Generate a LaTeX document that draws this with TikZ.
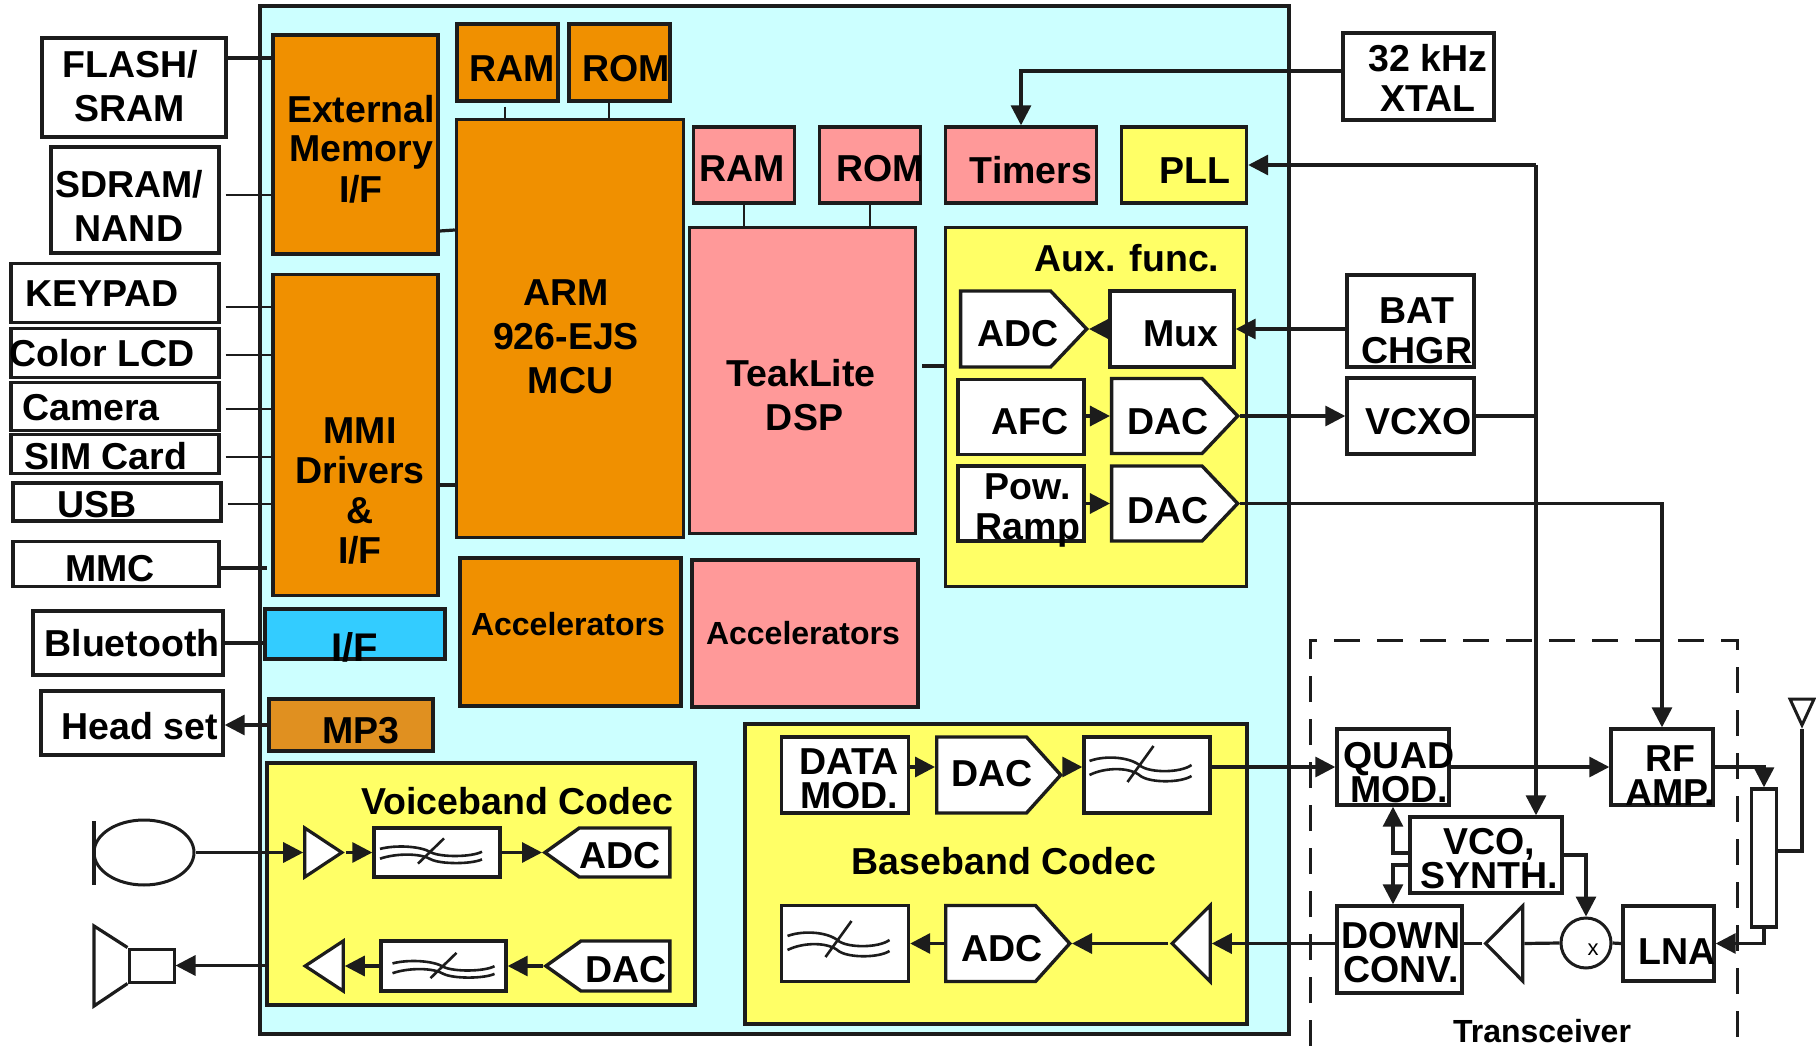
\documentclass[tikz,border=0pt]{standalone}
\usepackage{fontspec}
\setmainfont{Liberation Sans}
\usetikzlibrary{arrows.meta, shapes.geometric, shapes.symbols}
\definecolor{chipcyan}{HTML}{CCFFFF}
\definecolor{armorange}{HTML}{F09000}
\definecolor{mpthree}{HTML}{E09020}
\definecolor{dsppink}{HTML}{FF9999}
\definecolor{auxyellow}{HTML}{FFFF66}
\definecolor{ifblue}{HTML}{33CCFF}
\definecolor{inkline}{HTML}{1C1C1C}
\begin{document}
\begin{tikzpicture}[
    x=1pt, y=-1pt,
    wh/.style 2 args={minimum width=#1, minimum height=#2},
    box/.style={rectangle, draw=inkline, line width=3.4pt, inner sep=0pt, fill=white},
    armbox/.style={box, fill=armorange},
    dspbox/.style={box, fill=dsppink},
    auxbox/.style={box, fill=auxyellow},
    conv/.style={signal, signal from=nowhere, draw=inkline, line width=3.4pt, inner sep=0pt, fill=white},
    amp/.style={isosceles triangle, isosceles triangle stretches, draw=inkline, line width=3.2pt, inner sep=0pt, fill=white, anchor=apex},
    wire/.style={draw=inkline, line width=3.2pt},
    thinwire/.style={draw=inkline, line width=2pt},
    arrow/.style={wire, -{Triangle[length=20pt,width=20pt]}},
    lbl/.style={anchor=base, align=center, inner sep=0pt, font=\fontsize{37.5}{44}\selectfont\bfseries},
    lblmid/.style={lbl, font=\fontsize{37.5}{40}\selectfont\bfseries},
    lblclose/.style={lbl, font=\fontsize{37.5}{34}\selectfont\bfseries},
    lblsmall/.style={lbl, font=\fontsize{32}{36}\selectfont\bfseries},
    pics/wavefilter/.style={code={
        \draw[inkline, line width=2.6pt] (-51,-3) .. controls (-35,-9) and (-10,-7) .. (0,2) .. controls (10,9) and (40,9) .. (51,1);
        \draw[inkline, line width=2.6pt] (-51,11) .. controls (-35,3) and (-10,3) .. (0,12) .. controls (10,19) and (40,19) .. (51,12);
        \draw[inkline, line width=2.6pt] (-13,18) -- (13,-18);
    }}
]
\useasboundingbox (0,0) rectangle (1816,1046);

% transceiver frame, open at the bottom
\draw[inkline, line width=3pt, dash pattern=on 26pt off 17pt] (1310,1046) -- (1310,640) -- (1737,640) -- (1737,1046);

% chip
\node[box, fill=chipcyan, wh={1029}{1028}] (chip) at (774.5,520) {};

% memories and peripherals on the left
\node[box, wh={184}{99}] (flash) at (134,87.5) {};
\node[box, wh={168}{106}] (sdram) at (135,200) {};
\node[box, wh={208}{59}] (keypad) at (115,293) {};
\node[box, wh={208}{49}] (lcd) at (115,353) {};
\node[box, wh={208}{48}] (camera) at (115,406.5) {};
\node[box, wh={208}{39}] (sim) at (115,454) {};
\node[box, wh={208}{38}] (usb) at (117,502) {};
\node[box, wh={206}{45}] (mmc) at (116,564) {};
\node[box, wh={190}{64}] (bluetooth) at (128,643) {};
\node[box, wh={182}{64}] (headset) at (132,723) {};

% ARM side
\node[armbox, wh={165}{219}] (extmem) at (355.5,144.5) {};
\node[armbox, wh={165}{321}] (mmi) at (355.5,435) {};
\node[armbox, wh={101}{77}] (ramarm) at (507.5,62.5) {};
\node[armbox, wh={101}{77}] (romarm) at (619.5,62.5) {};
\node[armbox, wh={227}{418}] (arm) at (570,328.5) {};
\node[armbox, wh={221}{148}] (accarm) at (570.5,632) {};
\node[box, fill=ifblue, wh={180}{50}] (ifbox) at (355,634) {};
\node[box, fill=mpthree, wh={164}{52}] (mpbox) at (351,725) {};

% DSP side
\node[dspbox, wh={101}{76}] (ramdsp) at (744,165) {};
\node[dspbox, wh={101}{76}] (romdsp) at (870,165) {};
\node[dspbox, wh={151}{76}] (timers) at (1021,165) {};
\node[auxbox, wh={125}{76}] (pll) at (1184,165) {};
\node[dspbox, wh={226}{306}] (dsp) at (802.5,380.5) {};
\node[dspbox, wh={226}{147}] (accdsp) at (805,633.5) {};

% aux functions
\node[auxbox, wh={301}{359}] (aux) at (1096,407) {};
\node[conv, signal to=east, signal pointer angle=93, wh={126}{76}, anchor=east] (auxadc) at (1089,329) {};
\node[box, wh={124}{76}] (mux) at (1172,329) {};
\node[box, wh={126}{75}] (afc) at (1021,417) {};
\node[conv, signal to=east, signal pointer angle=93, wh={126}{75}, anchor=east] (auxdaca) at (1240,416) {};
\node[box, wh={126}{75}] (powramp) at (1021,503.5) {};
\node[conv, signal to=east, signal pointer angle=93, wh={126}{75}, anchor=east] (auxdacb) at (1240,503.5) {};

% outside on the right
\node[box, wh={151}{87}] (xtal) at (1418.5,76.5) {};
\node[box, wh={127}{92}] (batchgr) at (1410.5,321) {};
\node[box, wh={127}{76}] (vcxo) at (1410.5,416) {};

% voiceband codec
\node[auxbox, wh={428}{242}] (voice) at (481,884) {};
\node[amp, wh={49}{37}] (micamp) at (346,852.5) {};
\node[box, wh={126}{49}] (vfilta) at (437,852.5) {};
\node[conv, signal to=west, signal pointer angle=71, wh={125}{49}, anchor=west] (voiceadc) at (542,852.5) {};
\node[amp, shape border rotate=180, wh={50}{38}] (spkamp) at (301,966) {};
\node[box, wh={125}{50}] (vfiltb) at (443.5,966) {};
\node[conv, signal to=west, signal pointer angle=71, wh={124}{50}, anchor=west] (voicedac) at (543,966) {};
\pic[yscale=.7] at ([shift={(-6,-1.5)}]vfilta.center) {wavefilter};
\pic[yscale=.7] at ([shift={(0,-.5)}]vfiltb.center) {wavefilter};

% baseband codec
\node[auxbox, wh={502}{300}] (base) at (996,874) {};
\node[box, wh={127}{76}] (datamod) at (845,775) {};
\node[conv, signal to=east, signal pointer angle=96, wh={124}{76}, anchor=east] (basedac) at (1063,775) {};
\node[box, wh={126}{76}] (bfilta) at (1147,775) {};
\node[box, wh={127}{76}] (bfiltb) at (845,943.5) {};
\node[conv, signal to=east, signal pointer angle=96, wh={124}{76}, anchor=east] (baseadc) at (1072,943.5) {};
\node[amp, shape border rotate=180, wh={76}{38}] (rxamp) at (1168,943.5) {};
\pic at ([shift={(-6.5,-11)}]bfilta.center) {wavefilter};
\pic at ([shift={(-6.5,-4.5)}]bfiltb.center) {wavefilter};

% transceiver
\node[box, wh={112}{76}] (quad) at (1393,767) {};
\node[box, wh={102}{76}] (rfamp) at (1662,767) {};
\node[box, wh={152}{76}] (vco) at (1486,855) {};
\node[box, wh={125}{87}] (down) at (1399.5,949.5) {};
\node[amp, shape border rotate=180, wh={75}{37}] (ifamp) at (1481.5,943.5) {};
\node[circle, draw=inkline, line width=3pt, fill=white, inner sep=0pt, minimum size=50] (mixer) at (1586,943) {};
\node[box, wh={91}{75}] (lna) at (1668.5,943.5) {};
\node[box, wh={25}{138}] (duplex) at (1764,858) {};
\node[amp, fill=none, line width=3pt, shape border rotate=270, wh={24}{26}] (antenna) at (1802,729) {};

% mic and speaker
\node[ellipse, draw=inkline, line width=3pt, inner sep=0pt, wh={100}{65}] (mic) at (144,852.5) {};
\coordinate (mictop) at (94,821);
\coordinate (micbot) at (94,885);
\draw[wire] (mictop) -- (micbot);
\node[box, line width=3pt, wh={45}{33}] (speaker) at (151.5,965.5) {};
\coordinate (conetop) at (94,926);
\coordinate (conebot) at (94,1006);
\draw[wire] (speaker.north west) -- (conetop) -- (conebot) -- (speaker.south west);

% connections on the left
\draw[wire] (flash.east |- 0,58) -- (extmem.west |- 0,58);
\draw[thinwire] ([xshift=5pt]sdram.east |- 0,195) -- (extmem.west |- 0,195);
\draw[thinwire] ([xshift=5pt]keypad.east |- 0,307) -- (mmi.west |- 0,307);
\draw[thinwire] ([xshift=5pt]lcd.east |- 0,355) -- (mmi.west |- 0,355);
\draw[thinwire] ([xshift=5pt]camera.east |- 0,409) -- (mmi.west |- 0,409);
\draw[thinwire] ([xshift=5pt]sim.east |- 0,457) -- (mmi.west |- 0,457);
\draw[thinwire] ([xshift=5pt]usb.east |- 0,504) -- ([xshift=4pt]mmi.west |- 0,504);
\draw[wire] (mmc.east |- 0,568) -- ([xshift=-4pt]mmi.west |- 0,568);
\draw[wire] (bluetooth.east) -- (ifbox.west |- bluetooth.east);
\draw[arrow] (mpbox.west) -- (headset.east |- mpbox.west);
\draw[thinwire] ([yshift=-4pt]ramarm.south -| 505,0) -- (arm.north -| 505,0);
\draw[thinwire] (romarm.south -| 609,0) -- (arm.north -| 609,0);
\draw[wire] (extmem.east |- 0,231) -- (arm.west |- 0,230);
\draw[wire] (mmi.east |- 0,485) -- (arm.west |- 0,485);

% connections on the DSP side
\draw[thinwire] (ramdsp.south) -- (dsp.north -| ramdsp.south);
\draw[thinwire] (romdsp.south) -- (dsp.north -| romdsp.south);
\draw[wire] ([xshift=5pt]dsp.east |- 0,366) -- (aux.west |- 0,366);
\draw[arrow] (xtal.west |- 0,71) -| (timers.north);
\draw[arrow] (batchgr.west |- mux.east) -- (mux.east);
\draw[arrow] (mux.west) -- (auxadc.east);
\draw[arrow] (afc.east |- auxdaca.west) -- (auxdaca.west);
\draw[arrow] (powramp.east) -- (auxdacb.west);
\draw[arrow] (auxdaca.east) -- (vcxo.west);
\draw[arrow] (auxdacb.east) -| (rfamp.north);

\coordinate (pllbus) at (1536,165);
\draw[arrow] (pllbus) -- (pll.east);
\draw[arrow] (pllbus) -- (pllbus |- vco.north);
\draw[wire] (vcxo.east) -- (pllbus |- vcxo.east);

% voiceband path
\draw[arrow] (mic.east) -- (micamp.lower side);
\draw[arrow] (micamp.apex) -- (vfilta.west);
\draw[arrow] (vfilta.east) -- (voiceadc.west);
\draw[arrow] (voicedac.west) -- (vfiltb.east);
\draw[arrow] (vfiltb.west) -- (spkamp.lower side);
\draw[arrow] (voice.west |- speaker.east) -- (speaker.east);

% baseband path
\draw[arrow] (datamod.east |- 0,767) -- (basedac.west |- 0,767);
\draw[arrow] (basedac.east |- 0,767) -- (bfilta.west |- 0,767);
\draw[arrow] (bfilta.east |- quad.west) -- (quad.west);
\draw[arrow] (baseadc.west) -- (bfiltb.east);
\draw[arrow] (rxamp.apex) -- (baseadc.east);
\draw[arrow] (down.west |- rxamp.lower side) -- (rxamp.lower side);

% RF path
\draw[arrow] (quad.east) -- (rfamp.west);
\draw[arrow] (rfamp.east) -| (duplex.north);
\draw[arrow] (duplex.south) |- (lna.east);
\draw[wire] (duplex.east |- 0,851) -| (antenna.apex);
\draw[arrow] (vco.west |- 0,853) -| (quad.south);
\draw[arrow] (vco.west |- 0,865) -| (quad.south |- down.north);
\draw[arrow] (vco.east) -| (mixer.north);
\draw[wire] (lna.west) -- (mixer.east);
\draw[wire] (mixer.west) -- (ifamp.lower side);
\draw[wire] (ifamp.apex) -- (down.east |- ifamp.apex);

% labels
\node[lbl] (flashtxt) at (130,122) {FLASH/\\SRAM};
\node[lbl] (sdramtxt) at (129,241) {SDRAM/\\NAND};
\node[lbl] (keypadtxt) at (102,306) {KEYPAD};
\node[lbl] (lcdtxt) at (102,366) {Color LCD};
\node[lbl] (cameratxt) at (91,420) {Camera};
\node[lbl] (simtxt) at (106,469) {SIM Card};
\node[lbl] (usbtxt) at (97,517) {USB};
\node[lbl] (mmctxt) at (110,581) {MMC};
\node[lbl] (bluetoothtxt) at (132,656) {Bluetooth};
\node[lbl] (headsettxt) at (140,739) {Head set};
\node[lblmid] (extmemtxt) at (361,202) {External\\Memory\\I/F};
\node[lblmid] (mmitxt) at (360,563) {MMI\\Drivers\\\&\\I/F};
\node[lbl] (ramarmtxt) at (512,81.5) {RAM};
\node[lbl] (romarmtxt) at (626,81.5) {ROM};
\node[lbl] (armtxt) at (566,393) {ARM\\926-EJS\\\hspace*{9pt}MCU};
\node[lblsmall] (accarmtxt) at (568,635) {Accelerators};
\node[lbl, font=\fontsize{40}{44}\selectfont\bfseries] (iftxt) at (355,661) {I/F};
\node[lbl] (mptxt) at (361,743) {MP3};
\node[lbl] (ramdsptxt) at (742,182) {RAM};
\node[lbl] (romdsptxt) at (880,182) {ROM};
\node[lbl] (timerstxt) at (1031,184) {Timers};
\node[lbl] (plltxt) at (1195,184) {PLL};
\node[lbl] (dsptxt) at (801,430) {TeakLite\\\hspace*{7pt}DSP};
\node[lblsmall] (accdsptxt) at (803,644) {Accelerators};
\node[lbl] (auxtxt) at (1127,271) {Aux. func.};
\node[lbl] (auxadctxt) at (1018,346) {ADC};
\node[lbl] (muxtxt) at (1181,346) {Mux};
\node[lbl] (afctxt) at (1030,434) {AFC};
\node[lbl] (dacatxt) at (1168,434) {DAC};
\node[lblmid] (ramptxt) at (1028,539) {Pow.\\Ramp};
\node[lbl] (dacbtxt) at (1168,523) {DAC};
\node[lblmid] (xtaltxt) at (1428,112) {32 kHz\\XTAL};
\node[lblmid] (battxt) at (1417,363) {BAT\\CHGR};
\node[lbl] (vcxotxt) at (1419,434) {VCXO};
\node[lbl] (voicetxt) at (517,814) {Voiceband Codec};
\node[lbl] (voiceadctxt) at (620,868) {ADC};
\node[lbl] (voicedactxt) at (626,982) {DAC};
\node[lblclose] (datamodtxt) at (849,808) {DATA\\MOD.};
\node[lbl] (basedactxt) at (992,786) {DAC};
\node[lbl] (basetxt) at (1004,874) {Baseband Codec};
\node[lbl] (baseadctxt) at (1002,961) {ADC};
\node[lblclose] (quadtxt) at (1399,802) {QUAD\\MOD.};
\node[lblclose] (rftxt) at (1670,805) {RF\\AMP.};
\node[lblclose] (vcotxt) at (1489,888) {VCO,\\SYNTH.};
\node[lblclose] (downtxt) at (1401,982) {DOWN\\CONV.};
\node[lbl] (lnatxt) at (1677,964) {LNA};
\node[lbl, font=\fontsize{22}{24}\selectfont] (mixertxt) at (1593,955) {x};
\node[lbl, font=\fontsize{32}{36}\selectfont\bfseries] (transtxt) at (1542,1042) {Transceiver};

\end{tikzpicture}
\end{document}
